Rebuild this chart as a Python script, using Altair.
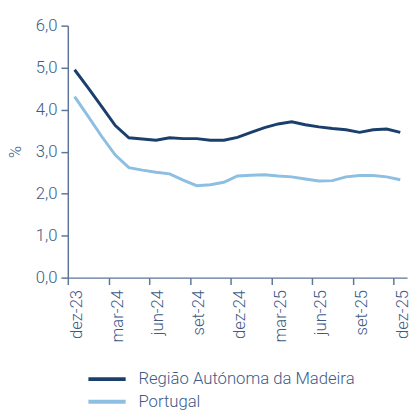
import altair as alt
import pandas as pd

months = ["dez-23", "jan-24", "fev-24", "mar-24", "abr-24", "mai-24", "jun-24", "jul-24",
          "ago-24", "set-24", "out-24", "nov-24", "dez-24", "jan-25", "fev-25", "mar-25",
          "abr-25", "mai-25", "jun-25", "jul-25", "ago-25", "set-25", "out-25", "nov-25", "dez-25"]
madeira = [4.95, 4.52, 4.07, 3.62, 3.33, 3.30, 3.27, 3.33, 3.31, 3.31, 3.27, 3.27, 3.34,
           3.46, 3.57, 3.66, 3.71, 3.64, 3.59, 3.55, 3.52, 3.46, 3.52, 3.54, 3.46]
portugal = [4.31, 3.84, 3.36, 2.92, 2.62, 2.56, 2.51, 2.47, 2.32, 2.19, 2.21, 2.27, 2.42,
            2.44, 2.45, 2.42, 2.40, 2.35, 2.30, 2.31, 2.40, 2.43, 2.43, 2.40, 2.33]
series = ["Região Autónoma da Madeira", "Portugal"]
colors = ["#1b3f6c", "#8dbfe3"]
tick_labels = ["dez-23", "mar-24", "jun-24", "set-24", "dez-24", "mar-25", "jun-25", "set-25", "dez-25"]

rows = []
for i, m in enumerate(months):
    rows.append({"idx": i, "mes": m, "serie": series[0], "valor": madeira[i]})
    rows.append({"idx": i, "mes": m, "serie": series[1], "valor": portugal[i]})
df = pd.DataFrame(rows)

text_color = "#3d5b86"
axis_color = "#5d7698"
font = "Roboto"

label_arr = "[" + ",".join("'" + t + "'" for t in tick_labels) + "]"
tick_vals = [i - 0.5 for i in range(0, 25, 3)]

chart = alt.Chart(df).mark_line(strokeWidth=3).encode(
    x=alt.X("idx:Q",
            scale=alt.Scale(domain=[-0.5, 24.5], nice=False, zero=False),
            axis=alt.Axis(values=tick_vals, title=None, grid=False,
                          labelExpr=label_arr + "[round((datum.value + 0.5) / 3)]",
                          labelAngle=270, labelAlign="right", labelBaseline="middle",
                          labelOffset=9, labelPadding=5, tickSize=7,
                          labelFontSize=17, labelFont=font, labelFontWeight=300,
                          labelColor=text_color, domainColor=axis_color, tickColor=axis_color,
                          domainWidth=1.5, tickWidth=1.5, labelOverlap=False, labelFlush=False)),
    y=alt.Y("valor:Q",
            scale=alt.Scale(domain=[0, 6], nice=False),
            axis=alt.Axis(values=[0, 1, 2, 3, 4, 5, 6], title="%", grid=False,
                          labelExpr="replace(format(datum.value, '.1f'), '.', ',')",
                          tickSize=7, labelPadding=4,
                          labelFontSize=17, labelFont=font, labelFontWeight=300,
                          labelColor=text_color, domainColor=axis_color, tickColor=axis_color,
                          domainWidth=1.5, tickWidth=1.5,
                          titleFontSize=17, titleFont=font, titleFontWeight=300,
                          titleColor=text_color, titlePadding=11)),
    color=alt.Color("serie:N",
                    scale=alt.Scale(domain=series, range=colors),
                    legend=alt.Legend(title=None, orient="none", legendX=19, legendY=350,
                                      direction="vertical", symbolType="stroke",
                                      symbolSize=1444, symbolStrokeWidth=4,
                                      clipHeight=21, rowPadding=2, padding=0,
                                      labelFontSize=17, labelFont=font, labelFontWeight=300,
                                      labelColor=text_color, labelOffset=11,
                                      labelLimit=400)),
    order="idx:Q",
).properties(
    width=346, height=257,
    padding={"left": 61, "top": 14, "right": 3, "bottom": 131},
    autosize=alt.AutoSizeParams(type="none"),
).configure_view(stroke=None)

chart.save("out.html", embed_options={"renderer": "svg", "actions": False})
